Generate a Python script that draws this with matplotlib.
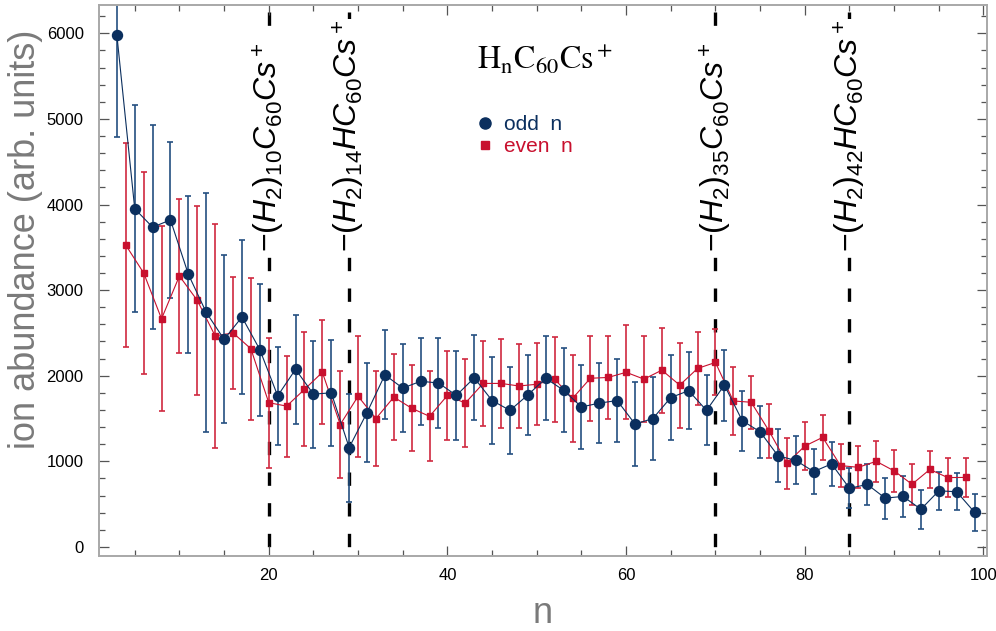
import matplotlib
matplotlib.use("Agg")
import matplotlib.pyplot as plt
from matplotlib.lines import Line2D
from matplotlib.ticker import MultipleLocator

plt.rcParams['font.family'] = ['Liberation Sans', 'DejaVu Sans']
plt.rcParams['mathtext.fontset'] = 'custom'
plt.rcParams['mathtext.it'] = 'Liberation Sans:italic'
plt.rcParams['mathtext.rm'] = 'Liberation Sans'

# ion abundance of H_n C60 Cs+ clusters, split by parity of n
odd_n = list(range(3, 100, 2))
odd_vals = [5980, 3950, 3735, 3820, 3185, 2740, 2425, 2685, 2305, 1765,
            2075, 1785, 1800, 1160, 1570, 2010, 1855, 1935, 1915, 1770,
            1975, 1710, 1595, 1775, 1970, 1830, 1635, 1680, 1710, 1435,
            1500, 1745, 1825, 1595, 1890, 1475, 1345, 1065, 1010, 880,
            970, 685, 730, 570, 590, 440, 655, 645, 405]
odd_err = [1190, 1210, 1190, 910, 920, 1400, 980, 900, 770, 570,
           640, 625, 620, 630, 580, 520, 515, 510, 520, 520,
           495, 505, 505, 470, 490, 490, 495, 470, 485, 490,
           490, 500, 450, 410, 415, 350, 305, 310, 280, 265,
           255, 235, 235, 240, 235, 225, 225, 215, 215]

even_n = list(range(4, 99, 2))
even_vals = [3525, 3200, 2665, 3165, 2880, 2465, 2500, 2315, 1685, 1645,
             1840, 2040, 1430, 1760, 1500, 1750, 1620, 1525, 1770, 1680,
             1910, 1910, 1880, 1900, 1960, 1735, 1970, 1980, 2040, 1960,
             2065, 1890, 2085, 2155, 1705, 1690, 1355, 978, 1178, 1280,
             950, 930, 1000, 888, 732, 905, 810, 812]
even_err = [1190, 1180, 1080, 900, 1100, 1310, 650, 830, 760, 590,
            665, 605, 630, 705, 560, 505, 500, 525, 520, 510,
            500, 520, 485, 480, 495, 505, 495, 485, 550, 505,
            495, 495, 430, 385, 400, 310, 315, 300, 280, 265,
            255, 245, 240, 245, 240, 220, 230, 225]

# marked cluster sizes and their labels
marker_n = [20, 29, 70, 85]
marker_labels = [r"$\mathit{-(H_2)_{10}C_{60}Cs^+}$",
                 r"$\mathit{-(H_2)_{14}HC_{60}Cs^+}$",
                 r"$\mathit{-(H_2)_{35}C_{60}Cs^+}$",
                 r"$\mathit{-(H_2)_{42}HC_{60}Cs^+}$"]

odd_color = '#0b2f5e'
odd_bar = '#244f80'
even_color = '#c8102e'
even_bar = '#d0293f'

fig = plt.figure(figsize=(9.96, 6.31), dpi=100)
ax = fig.add_axes([0.0994, 0.119, 0.8916, 0.873])

for xn in marker_n:
    ax.axvline(xn, color='black', lw=2.4, linestyle=(6.4, (4.0, 5.2)),
               dash_capstyle='butt', zorder=1)

ax.errorbar(even_n, even_vals, yerr=even_err, fmt='none', ecolor=even_bar,
            elinewidth=1.2, capsize=2.5, capthick=1.2, zorder=2)
ax.errorbar(odd_n, odd_vals, yerr=odd_err, fmt='none', ecolor=odd_bar,
            elinewidth=1.2, capsize=2.5, capthick=1.2, zorder=2)
ax.plot(even_n, even_vals, color=even_color, lw=0.8, marker='s', ms=4.8,
        mec=even_color, mfc=even_color, zorder=3)
ax.plot(odd_n, odd_vals, color=odd_color, lw=0.8, marker='o', ms=7.2,
        mec=odd_color, mfc=odd_color, zorder=4)

for xn, lab in zip(marker_n, marker_labels):
    ax.text(xn, 3440, lab, rotation=90, rotation_mode='anchor',
            ha='left', va='center', fontsize=23, color='black', zorder=5,
            bbox=dict(facecolor='white', edgecolor='none', pad=0.5))

ax.text(0.502, 0.90, r"$\mathrm{H_nC_{60}Cs^+}$", transform=ax.transAxes,
        ha='center', va='center', fontsize=23, math_fontfamily='stix',
        color='black')

handles = [Line2D([], [], ls='none', marker='o', ms=8, color=odd_color),
           Line2D([], [], ls='none', marker='s', ms=5.5, color=even_color)]
leg = ax.legend(handles, ["odd  n", "even  n"], loc='upper left',
                bbox_to_anchor=(0.425, 0.80), frameon=False, fontsize=15,
                handlelength=0.8, handletextpad=0.5, labelspacing=0.15,
                borderpad=0, borderaxespad=0)
for t, c in zip(leg.get_texts(), [odd_color, even_color]):
    t.set_color(c)

ax.set_xlim(1, 100.4)
ax.set_ylim(-105, 6330)
ax.xaxis.set_major_locator(MultipleLocator(20))
ax.xaxis.set_minor_locator(MultipleLocator(5))
ax.yaxis.set_major_locator(MultipleLocator(1000))
ax.yaxis.set_minor_locator(MultipleLocator(200))

ax.tick_params(which='both', direction='in', top=True, right=True,
               color='#555555', labelsize=12, labelcolor='black')
ax.tick_params(which='major', length=7, width=0.9)
ax.tick_params(which='minor', length=4, width=0.9)
ax.tick_params(axis='y', pad=11)
ax.tick_params(axis='x', pad=9)

for sp in ax.spines.values():
    sp.set_color('#a8a8a8')
    sp.set_linewidth(1.4)

ax.set_xlabel("n", fontsize=26, color='#7a7a7a')
ax.xaxis.set_label_coords(0.5, -0.072)
ax.set_ylabel("ion abundance (arb. units)", fontsize=26, color='#7a7a7a')
ax.yaxis.set_label_coords(-0.063, 0.575)

fig.savefig("out.png", dpi=100)
